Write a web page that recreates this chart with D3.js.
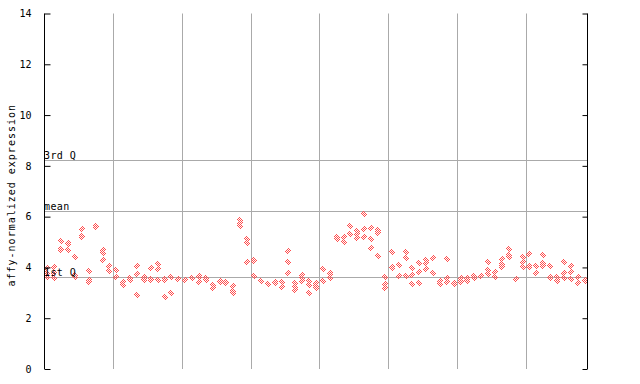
<!DOCTYPE html>
<html><head><meta charset="utf-8">
<script src="https://cdn.jsdelivr.net/npm/d3@7"></script>
<style>body{margin:0;background:#fff}svg{display:block}</style>
</head><body>
<svg id="chart" width="640" height="384"></svg>
<script>
// Expression values per sample column (79 columns, groups of 10)
const sampleValues = [
 [3.98,3.78,3.63],[4.0,3.8,3.57],[5.04,4.71,4.70],[4.95,4.92,4.69],[4.40,3.70,3.62],
 [5.51,5.25,5.18],[3.86,3.50,3.43],[5.64,5.58],[4.69,4.57,4.29],[4.04,3.86],
 [3.89,3.64,3.62],[3.42,3.31],[3.57,3.55,3.50],[4.04,3.73,2.91],[3.64,3.60,3.50],
 [3.97,3.55,3.50],[4.12,3.93,3.50],[3.56,3.50,2.84],[3.64,2.98],[3.55,3.53],
 [3.49,3.52],[3.58,3.60],[3.67,3.64,3.41],[3.60,3.50],[3.32,3.20],
 [3.47,3.42],[3.43,3.40],[3.27,3.09,3.01],[5.87,5.76,5.63],[5.11,4.95,4.20],
 [4.28,4.26,3.65],[3.48,3.46],[3.36,3.34],[3.43,3.38],[3.41,3.24,3.22],
 [4.63,4.20,3.77],[3.37,3.22,3.11],[3.70,3.58,3.47],[3.45,3.31,2.98],[3.40,3.27,3.20],
 [3.93,3.48,3.46],[3.77,3.75,3.57],[5.19,5.17,5.11],[5.21,5.19,4.99],[5.63,5.31],
 [5.45,5.31,5.15],[6.09,5.51,5.21],[5.54,5.11,4.75],[5.46,5.42,5.35,4.44],[3.62,3.34,3.20],
 [4.60,4.03,3.97],[4.08,3.67,3.65],[4.61,4.36,3.67],[3.97,3.69,3.34],[4.16,3.81,3.37],
 [4.29,4.16,3.93],[4.36,3.77],[3.47,3.45,3.34],[4.33,3.57,3.41],[3.39,3.36],
 [3.57,3.45,3.42],[3.57,3.50,3.47],[3.67,3.60,3.57],[3.68,3.66],[4.23,3.90,3.73],
 [3.81,3.61],[4.33,4.12,4.09,4.01],[4.73,4.49,4.40],[3.55,3.53],[4.40,4.23,4.01],
 [4.53,4.04,4.01],[4.04,3.77],[4.49,4.18,4.15,4.07],[4.04,3.64,3.57],[3.64,3.50,3.46],
 [4.23,3.77,3.57],[4.04,3.83,3.53],[3.64,3.37],[3.47,3.50]
];
const groupBoundaries = [10,20,30,40,50,60,70];
const yTicks = [0,2,4,6,8,10,12,14];
const refLines = [
  {label:"3rd Q", value:8.22},
  {label:"mean", value:6.21},
  {label:"1st Q", value:3.62}
];
const yTitle = "affy-normalized expression";

const svg = d3.select("#chart");
const x = d3.scaleLinear().domain([0, sampleValues.length]).range([44, 588]);
const y = d3.scaleLinear().domain([0, 14]).range([369, 13.5]);
const px = v => Math.round(v) + 0.5;
const red = "#ff4d4d";

const defs = svg.append("defs");
const pat = defs.append("pattern").attr("id","chk").attr("patternUnits","userSpaceOnUse")
  .attr("width",2).attr("height",2);
pat.append("rect").attr("x",0).attr("y",0).attr("width",1).attr("height",1).attr("fill",red);
pat.append("rect").attr("x",1).attr("y",1).attr("width",1).attr("height",1).attr("fill",red);

// vertical group gridlines
svg.append("g").selectAll("line").data(groupBoundaries).join("line")
  .attr("x1", d=>px(x(d))).attr("x2", d=>px(x(d)))
  .attr("y1", y(14)).attr("y2", y(0))
  .attr("stroke","#aaaaaa").attr("stroke-width",1);

// reference lines
svg.append("g").selectAll("line").data(refLines).join("line")
  .attr("x1", x(0)).attr("x2", x(sampleValues.length))
  .attr("y1", d=>px(y(d.value))).attr("y2", d=>px(y(d.value)))
  .attr("stroke","#aaaaaa").attr("stroke-width",1);

// points
const pts = [];
sampleValues.forEach((vals,i)=>vals.forEach(v=>pts.push({i,v})));
svg.append("g").attr("shape-rendering","crispEdges").selectAll("path").data(pts).join("path")
  .attr("d", d=>{
    const cx = Math.round(x(d.i+0.5)), cy = Math.round(y(d.v));
    return `M${cx},${cy-3.5}L${cx+3.5},${cy}L${cx},${cy+3.5}L${cx-3.5},${cy}Z`;
  })
  .attr("fill","url(#chk)");

// reference labels
svg.append("g").selectAll("text").data(refLines).join("text")
  .attr("x", 44).attr("y", d=>Math.round(y(d.value))-1.5)
  .attr("font-family","DejaVu Sans Mono, monospace").attr("font-size",10)
  .attr("letter-spacing",0.4).attr("fill","#000").text(d=>d.label);

// left axis
const left = svg.append("g").attr("transform","translate(44.5,0)")
  .call(d3.axisLeft(y).tickValues(yTicks).tickSize(-6).tickPadding(13).tickFormat(d3.format("d")));
left.select(".domain").attr("d", `M0,${y(14)}V${y(0)}`);
left.selectAll("text").attr("font-family","DejaVu Sans Mono, monospace").attr("font-size",10);

// right axis
const right = svg.append("g").attr("transform","translate(587.5,0)")
  .call(d3.axisRight(y).tickValues(yTicks).tickSize(-5).tickFormat(""));
right.select(".domain").attr("d", `M0,${y(14)}V${y(0)}`);

// y title
svg.append("text").attr("transform",`translate(15,${(y(0)+y(14))/2+4}) rotate(-90)`)
  .attr("text-anchor","middle").attr("font-family","DejaVu Sans Mono, monospace")
  .attr("font-size",10).attr("letter-spacing",1).text(yTitle);
</script>
</body></html>
